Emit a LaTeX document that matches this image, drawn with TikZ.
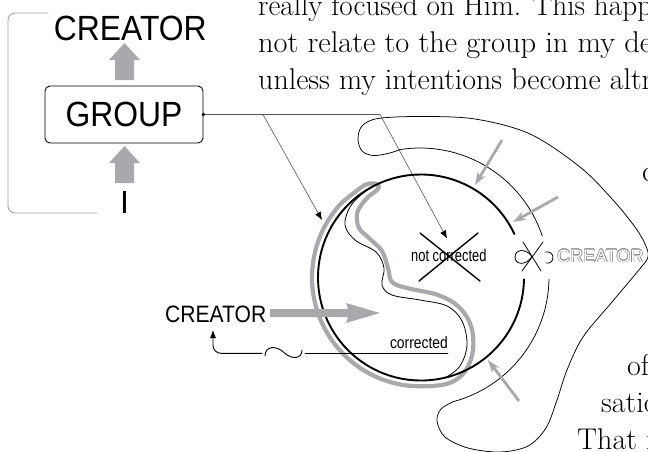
\documentclass[tikz,border=0pt]{standalone}
\usepackage{fontspec}
\usepackage{graphicx}
\usetikzlibrary{arrows.meta,calc}
\newfontfamily\sansf{Liberation Sans}
\definecolor{agray}{HTML}{A7A9AC}
\definecolor{bgray}{HTML}{9C9C9C}
\definecolor{lgray}{HTML}{555555}
\definecolor{ogray}{HTML}{858585}
\newcommand\outlinedword[1]{\leavevmode
  \rlap{\textcolor{ogray}{\kern0.6pt #1}}%
  \rlap{\textcolor{ogray}{\kern-0.6pt #1}}%
  \rlap{\textcolor{ogray}{\raisebox{0.6pt}{#1}}}%
  \rlap{\textcolor{ogray}{\raisebox{-0.6pt}{#1}}}%
  \rlap{\textcolor{ogray}{\kern0.42pt\raisebox{0.42pt}{#1}}}%
  \rlap{\textcolor{ogray}{\kern-0.42pt\raisebox{0.42pt}{#1}}}%
  \rlap{\textcolor{ogray}{\kern0.42pt\raisebox{-0.42pt}{#1}}}%
  \rlap{\textcolor{ogray}{\kern-0.42pt\raisebox{-0.42pt}{#1}}}%
  \textcolor{white}{#1}}
\newcommand\bookline[1]{\resizebox{394pt}{\height}{#1}}
\tikzset{
  serif/.style={inner sep=0, anchor=base west, font=\fontsize{30}{32}\selectfont},
  conn/.style={draw=lgray, line width=0.6pt},
  connarrow/.style={-{Latex[length=8pt,width=6.5pt,color=black]}},
  grayarr/.style={draw=agray, line width=2.8pt, line cap=butt, -{Stealth[length=13pt,width=9pt]}},
  thinline/.style={line width=0.75pt},
  groupbox/.style={draw, line width=0.9pt, rounded corners=5pt, minimum width=158pt, minimum height=57pt, inner sep=0,
     font=\sansf\fontsize{35}{35}\selectfont},
}
\begin{document}
\begin{tikzpicture}[x=1pt,y=-1pt, line join=round, line cap=round]
\useasboundingbox (0,0) rectangle (648,451);
\clip (0,0) rectangle (648,451);

% ---- surrounding book text (cut by the frame) ----
\node[serif] (txa) at (258,15) {\bookline{really focused on Him. This happ}};
\node[serif] (txb) at (258,52) {\bookline{not relate to the group in my de}};
\node[serif] (txc) at (258,89) {\bookline{unless my intentions become altr}};
\node[serif] (txd) at (642,181) {c};
\node[serif] (txe) at (627,375) {of};
\node[serif] (txf) at (601,412) {satio};
\node[serif] (txg) at (577,449) {That i};

% ---- left scheme ----
\node[inner sep=0, anchor=base, font=\sansf\fontsize{35}{35}\selectfont] (creator) at (130.3,40) {\scalebox{0.91}[1]{CREATOR}};
\node[groupbox] (group) at (124,114.5) {\scalebox{0.91}[1]{GROUP}};
\node[inner sep=0, anchor=base, font=\sansf\fontsize{32}{32}\selectfont] (me) at (124.5,213) {I};
\fill[agray] (124.5,43) -- (140,60) -- (134,60) -- (134,80) -- (115,80) -- (115,60) -- (109,60) -- cycle;
\fill[agray] (124.5,146) -- (140,163) -- (134,163) -- (134,183) -- (115,183) -- (115,163) -- (109,163) -- cycle;
\draw[bgray, line width=0.8pt, rounded corners=7pt] (97,213) -- (8,213) -- (8,13) -- (48,13);

% ---- connectors from GROUP ----
\coordinate (j1) at (263,114.5);
\coordinate (j2) at (380,114.5);
\coordinate (t1) at (322,220);
\coordinate (t2) at (447,238.5);
\draw[conn, connarrow] (group.east) -- (j2) -- (t2);
\draw[conn, connarrow] (j1) -- (t1);
\fill (group.east) circle[radius=1.9pt];

% ---- outer blob outline ----
\draw[thinline] ([shift={(1:129)}]420,277) arc[start angle=1, end angle=75, radius=129];
\draw[thinline] plot[smooth, tension=0.55] coordinates {(453.39,401.60) (441,409) (437,421) (445,437) (468,448) (500,452) (528,446) (546,428) (557,400) (567,370) (583,337) (612,302) (638,271) (648,257) (645,244) (635,227) (613,200) (580,167) (530,134) (475,119) (420,116.5) (378,118.5) (362,126) (358,139) (362,151) (373,155.5) (388,153.5) (399.82,149.59)};
\draw[thinline] ([shift={(261:129)}]420,277) arc[start angle=261, end angle=341.5, radius=129];

% ---- gray loop ----
\draw[agray, line width=4.2pt] plot[smooth cycle, tension=0.6] coordinates {(337.5,207.4) (322.2,231.4) (313.7,258.6) (312.4,287) (318.6,314.8) (331.7,340) (350.9,361) (374.9,376.3) (402.1,384.8) (430.5,386.1) (452,382) (466,370) (473,350) (471,326) (459,307) (438,295) (407,288) (392,282) (388,268) (382,251) (370,239) (359,228) (357,214) (362,204) (369,196) (376,191) (379,186) (374,183.5) (366,184.5) (355,192)};

% ---- black circle (broken at the right) ----
\draw[line width=1.9pt] ([shift={(1:103)}]421,277.5) arc[start angle=1, end angle=335, radius=103];

% ---- thin wiggle ----
\draw[line width=0.8pt] plot[smooth, tension=0.6] coordinates {(374.2,185.7) (362,194) (350,207) (345,225) (355,240) (376,252) (384,268) (382,285) (392,295) (420,300) (447,306) (462,321) (467,345) (460,366) (445.9,377.4)};

% ---- gray arrows to the circle ----
\coordinate (a1s) at (502,140); \coordinate (a1e) at (475,185);
\coordinate (a2s) at (558,197); \coordinate (a2e) at (513,222);
\coordinate (a3s) at (519,401); \coordinate (a3e) at (488,360);
\draw[grayarr] (a1s) -- (a1e);
\draw[grayarr] (a2s) -- (a2e);
\draw[grayarr] (a3s) -- (a3e);

% ---- CREATOR with big gray arrow ----
\node[inner sep=0, anchor=base west, font=\sansf\fontsize{23.7}{24}\selectfont] (creatorb) at (165,322) {\scalebox{0.89}[1]{CREATOR}};
\fill[agray] (270,309) -- (348,309) -- (346,303) -- (380,313) -- (346,323) -- (348,317) -- (270,317) -- cycle;

% ---- corrected line with tilde ----
\coordinate (up) at (213,330);
\coordinate (tl) at (262,353.3);
\coordinate (tr) at (305,353.3);
\coordinate (cr) at (448,353.3);
\draw[line width=0.9pt, rounded corners=8pt, -{Latex[length=8pt,width=6pt]}] (tl) -| (up);
\draw[line width=0.9pt] (265,356) .. controls (265,346) and (276,345) .. (284,352.5) .. controls (292,360) and (302,359) .. (302,350);
\draw[line width=0.9pt] (tr) -- (cr);
\node[inner sep=0, anchor=base east, font=\sansf\fontsize{16.5}{17}\selectfont] (corr) at (448,348) {\scalebox{0.84}[1]{corrected}};

% ---- not corrected ----
\node[inner sep=0, anchor=base west, font=\sansf\fontsize{17}{17}\selectfont] (ncorr) at (411,261) {\scalebox{0.76}[1]{not corrected}};
\draw[line width=1.4pt] (420,233) -- (480,281);
\draw[line width=1.4pt] (478,233) -- (419,281);

% ---- broken link symbol and outlined CREATOR ----
\draw[line width=0.8pt] (523,242) -- (541,271);
\draw[line width=0.8pt] (543,242) -- (522,271);
\draw[line width=0.8pt] (532,256.5) .. controls (526,248) and (515,249) .. (515,257) .. controls (515,265) and (526,266) .. (532,256.5);
\draw[line width=0.8pt] (545,252) .. controls (550,251) and (553,254) .. (553,257.5) .. controls (553,261) and (550,264) .. (546,263);
\node[inner sep=0, anchor=base west, font=\sansf\fontsize{18}{18}\selectfont] (ocreator) at (557,262) {\outlinedword{CREATOR}};
\end{tikzpicture}
\end{document}
